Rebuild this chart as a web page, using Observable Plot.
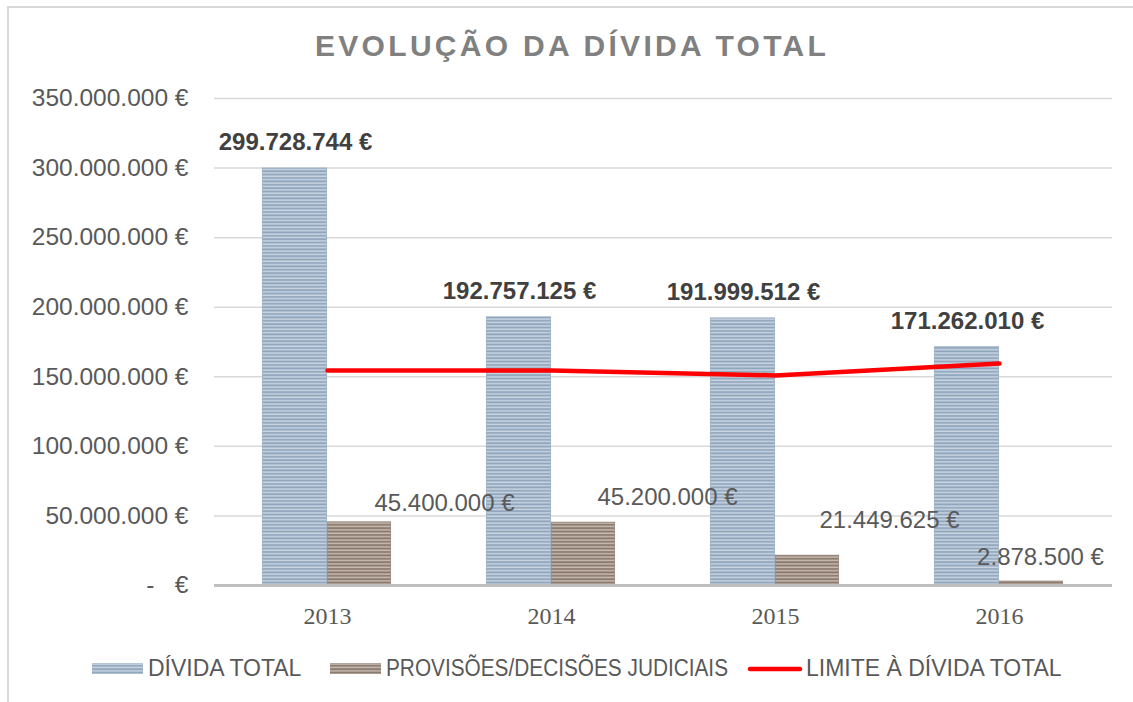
<!DOCTYPE html>
<html>
<head>
<meta charset="utf-8">
<script src="https://cdn.jsdelivr.net/npm/d3@7"></script>
<script src="https://cdn.jsdelivr.net/npm/@observablehq/plot@0.6"></script>
<style>
  html, body { margin: 0; padding: 0; background: #fff; }
  body { width: 1133px; height: 702px; position: relative; overflow: hidden; font-family: "Liberation Sans", Arial, sans-serif; }
  #frame { position: absolute; left: 7px; top: 6px; width: 1300px; height: 900px; border-left: 2px solid #d9d9d9; border-top: 2px solid #d9d9d9; }
  #title { position: absolute; left: 315px; top: 31px; font-size: 30px; line-height: 30px; font-weight: bold; letter-spacing: 3.3px; color: #808080; white-space: nowrap; }
  #chart { position: absolute; left: 0; top: 80px; }
  .leg { position: absolute; top: 657px; font-size: 23px; line-height: 23px; color: #595959; white-space: nowrap; transform-origin: 0 50%; }
  .sw { position: absolute; }
</style>
</head>
<body>
<div id="frame"></div>
<div id="title"></div>
<div id="chart"></div>
<div id="legend"></div>
<script>
// ---- data ----
const years = ["2013", "2014", "2015", "2016"];
const dividaTotal = [299728744, 192757125, 191999512, 171262010];
const provisoes = [45400000, 45200000, 21449625, 2878500];
const limiteDivida = [154500000, 154500000, 151000000, 159500000];
const yTicks = [0, 50000000, 100000000, 150000000, 200000000, 250000000, 300000000, 350000000];
const seriesNames = ["DÍVIDA TOTAL", "PROVISÕES/DECISÕES JUDICIAIS", "LIMITE À DÍVIDA TOTAL"];
const titleText = "EVOLUÇÃO DA DÍVIDA TOTAL";

// label offsets (style) for the provisões labels
const provLabelDx = [85, 84, 82, 9];
const provLabelDy = [-19, -25, -35, -24];

// ---- build ----
document.getElementById("title").textContent = titleText;

const W = 1133, H = 560, mL = 214, mR = 21;
const band = (W - mL - mR) / years.length;
const barW = 64;

const fmt = d => d3.format(",.0f")(d).replace(/,/g, ".") + " €";
const tickFmt = d => d === 0 ? "-\u2007 €" : fmt(d);

const divRows = years.map((y, i) => ({year: y, value: dividaTotal[i]}));
const provRows = years.map((y, i) => ({year: y, value: provisoes[i]}));
const limRows = years.map((y, i) => ({year: y, value: limiteDivida[i]}));

const provLabelMarks = provRows.map((r, i) => Plot.text([r], {
  x: "year", y: "value", text: d => fmt(d.value),
  dx: barW / 2 + provLabelDx[i],
  dy: provLabelDy[i],
  fontSize: 24, fill: "#595959"
}));

const plot = Plot.plot({
  width: W, height: H,
  marginTop: 18, marginBottom: 55, marginLeft: mL, marginRight: mR,
  x: {domain: years, padding: 0, label: null},
  y: {domain: [0, 350000000], label: null},
  style: {fontFamily: "Liberation Sans, Arial, sans-serif", background: "transparent"},
  marks: [
    Plot.ruleY(yTicks.slice(1), {stroke: "#d9d9d9", strokeWidth: 1.5}),
    Plot.barY(divRows, {x: "year", y: "value", fill: "url(#stripeBlue)", insetLeft: band / 2 - barW - 1, insetRight: band / 2, stroke: "#93a7bc", strokeWidth: 0.6}),
    Plot.barY(provRows, {x: "year", y: "value", fill: "url(#stripeBrown)", insetLeft: band / 2, insetRight: band / 2 - barW, stroke: "#88786c", strokeWidth: 0.6}),
    Plot.ruleY([0], {stroke: "#bfbfbf", strokeWidth: 3}),
    Plot.lineY(limRows, {x: "year", y: "value", stroke: "#ff0000", strokeWidth: 4.5, strokeLinecap: "round"}),
    Plot.text(divRows, {x: "year", y: "value", text: d => fmt(d.value), dx: -barW / 2, dy: -26,
      fontSize: 24, fontWeight: "bold", letterSpacing: "1px", fill: "#404040"}),
    ...provLabelMarks,
    Plot.axisY({ticks: yTicks, tickFormat: tickFmt, tickSize: 0, tickPadding: 26, fontSize: 24.5, color: "#595959"}),
    Plot.axisX({tickSize: 0, tickPadding: 21, fontSize: 24, color: "#595959", fontFamily: "Liberation Serif, Times New Roman, serif"})
  ]
});

// stripe patterns
const defs = d3.select(plot).insert("defs", ":first-child");
function stripe(id, dark, light) {
  const p = defs.append("pattern").attr("id", id).attr("patternUnits", "userSpaceOnUse")
    .attr("width", 8).attr("height", 3.4);
  p.append("rect").attr("width", 8).attr("height", 3.4).attr("fill", dark);
  p.append("rect").attr("y", 0.3).attr("width", 8).attr("height", 1.6).attr("fill", light);
}
stripe("stripeBlue", "#8ea4bb", "#c9d5e2");
stripe("stripeBrown", "#877669", "#c8bbb1");
document.getElementById("chart").appendChild(plot);

// legend
const legend = document.getElementById("legend");
function swatchSvg(id, x) {
  const s = document.createElementNS("http://www.w3.org/2000/svg", "svg");
  s.setAttribute("class", "sw");
  s.setAttribute("width", 51); s.setAttribute("height", 11);
  s.style.left = x + "px"; s.style.top = "663px";
  s.innerHTML = `<rect width="51" height="11" fill="url(#${id})"/>`;
  legend.appendChild(s);
}
function legText(t, x, targetW) {
  const el = document.createElement("div");
  el.className = "leg"; el.style.left = x + "px"; el.textContent = t;
  legend.appendChild(el);
  const w = el.getBoundingClientRect().width;
  if (w > targetW) el.style.transform = `scaleX(${targetW / w})`;
}
swatchSvg("stripeBlue", 92); legText(seriesNames[0], 148, 156);
swatchSvg("stripeBrown", 330); legText(seriesNames[1], 386, 342);
const ln = document.createElementNS("http://www.w3.org/2000/svg", "svg");
ln.setAttribute("class", "sw"); ln.setAttribute("width", 56); ln.setAttribute("height", 10);
ln.style.left = "747px"; ln.style.top = "664px";
ln.innerHTML = `<line x1="3" y1="5" x2="53" y2="5" stroke="#ff0000" stroke-width="4.5" stroke-linecap="round"/>`;
legend.appendChild(ln);
legText(seriesNames[2], 806, 262);
</script>
</body>
</html>
